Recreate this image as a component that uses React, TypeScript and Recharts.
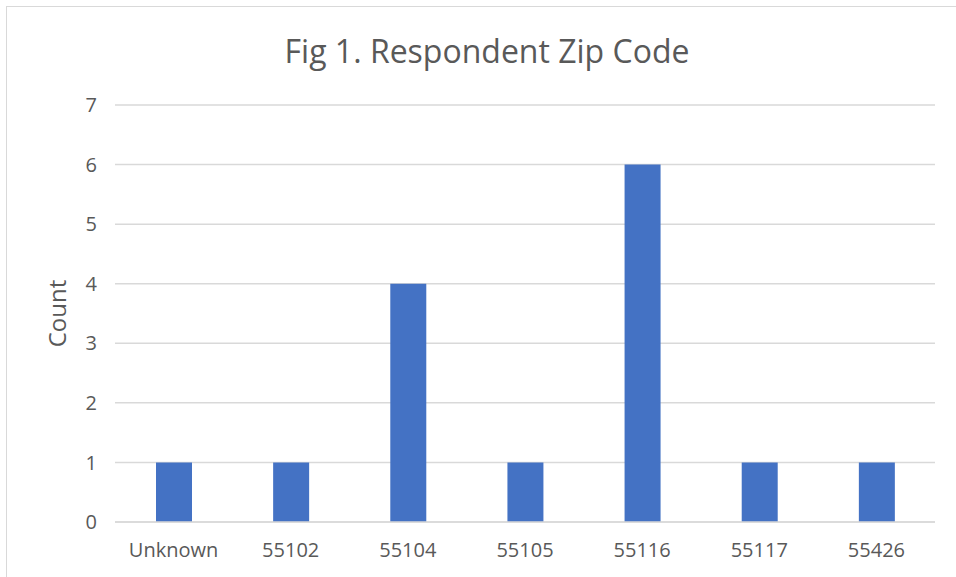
import React from "react";
import { BarChart, Bar, XAxis, YAxis, CartesianGrid, Label } from "recharts";

const zipCodes = ["Unknown", "55102", "55104", "55105", "55116", "55117", "55426"];
const counts = [1, 1, 4, 1, 6, 1, 1];
const yTicks = [0, 1, 2, 3, 4, 5, 6, 7];

const data = zipCodes.map((zip, i) => ({ zip, count: counts[i] }));

const font = "'Open Sans', sans-serif";

const App = () => {
    return (
        <div
            style={{
                position: "absolute",
                left: 6,
                top: 6,
                width: 960,
                height: 580,
                border: "1.5px solid #d9d9d9",
                background: "#fff",
                fontFamily: font,
            }}
        >
            {/* title */}
            <span
                style={{
                    position: "absolute",
                    left: 480,
                    top: 22,
                    transform: "translateX(-50%)",
                    whiteSpace: "nowrap",
                    fontSize: 32,
                    color: "#595959",
                }}
            >
                Fig 1. Respondent Zip Code
            </span>
            <BarChart
                width={948}
                height={573}
                data={data}
                margin={{ top: 98, right: 18, bottom: 0, left: 0 }}
                style={{ position: "absolute", left: -2, top: 0 }}
            >
                <CartesianGrid vertical={false} stroke="#d9d9d9" strokeWidth={1.5} />
                <XAxis
                    dataKey="zip"
                    axisLine={{ stroke: "#d9d9d9", strokeWidth: 1.5 }}
                    tickLine={false}
                    tickSize={0}
                    tickMargin={21}
                    height={58}
                    tick={{ fontSize: 20, fill: "#595959", fontFamily: font }}
                />
                <YAxis
                    width={110}
                    domain={[0, 7]}
                    ticks={yTicks}
                    axisLine={false}
                    tickLine={false}
                    tickSize={0}
                    tickMargin={18}
                    tick={{ fontSize: 20, fill: "#595959", fontFamily: font }}
                >
                    <Label
                        value="Count"
                        angle={-90}
                        position="insideLeft"
                        offset={52}
                        style={{ fontSize: 24, fill: "#595959", fontFamily: font, textAnchor: "middle" }}
                    />
                </YAxis>
                <Bar dataKey="count" fill="#4472c4" barSize={36} isAnimationActive={false} />
            </BarChart>
        </div>
    );
};

export default App;
